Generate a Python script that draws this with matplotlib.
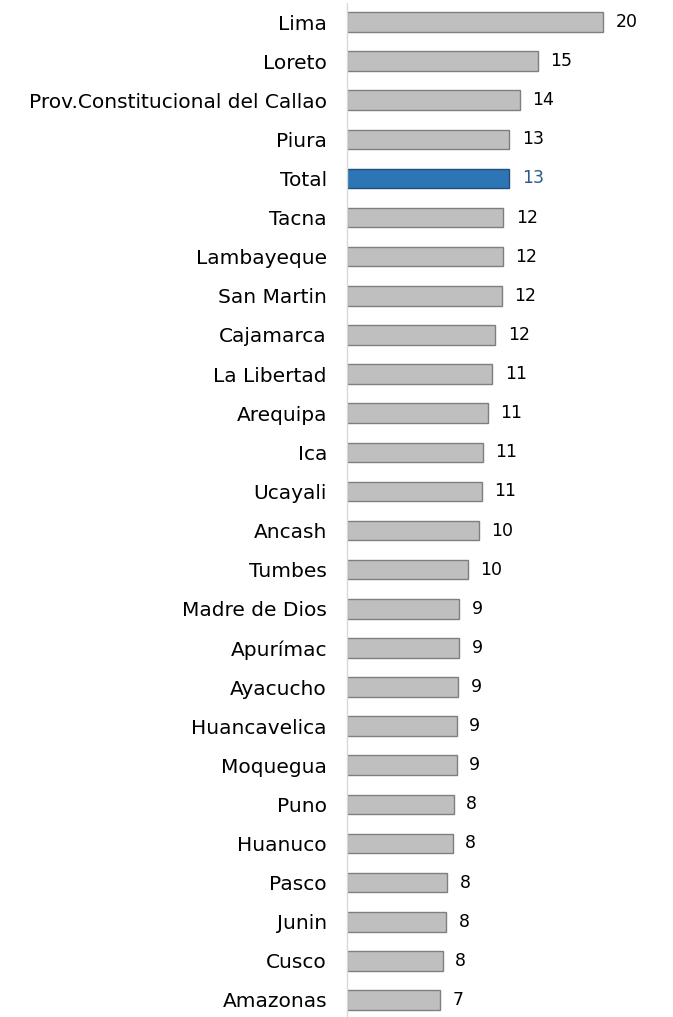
import matplotlib
matplotlib.use("Agg")
import matplotlib.pyplot as plt

plt.rcParams['font.family'] = ['DejaVu Sans']

categories = ["Lima", "Loreto", "Prov.Constitucional del Callao", "Piura", "Total",
              "Tacna", "Lambayeque", "San Martin", "Cajamarca", "La Libertad",
              "Arequipa", "Ica", "Ucayali", "Ancash", "Tumbes", "Madre de Dios",
              "Apurímac", "Ayacucho", "Huancavelica", "Moquegua", "Puno",
              "Huanuco", "Pasco", "Junin", "Cusco", "Amazonas"]
values = [20.2, 15.05, 13.65, 12.8, 12.8, 12.35, 12.3, 12.2, 11.7, 11.45,
          11.1, 10.73, 10.63, 10.39, 9.53, 8.87, 8.87, 8.76, 8.66, 8.66,
          8.42, 8.34, 7.92, 7.8, 7.55, 7.34]
labels = ["20", "15", "14", "13", "13", "12", "12", "12", "12", "11", "11", "11",
          "11", "10", "10", "9", "9", "9", "9", "9", "8", "8", "8", "8", "8", "7"]
highlight = "Total"

W, H = 673, 1017
fig = plt.figure(figsize=(W / 100, H / 100), dpi=100)
left_px, right_px = 347, 651
top_px, bot_px = 3, 1016
ax = fig.add_axes([left_px / W, 1 - bot_px / H, (right_px - left_px) / W, (bot_px - top_px) / H])

pos = list(range(len(categories)))
colors = ["#2E75B6" if c == highlight else "#BFBFBF" for c in categories]
edges = ["#1F4E79" if c == highlight else "#7F7F7F" for c in categories]
ax.barh(pos, values, height=0.5, color=colors, edgecolor=edges, linewidth=1.0)

for p, v, lab, c in zip(pos, values, labels, categories):
    col = "#2E5A8A" if c == highlight else "#000000"
    ax.text(v + 1.0, p, lab, va="center", ha="left", fontsize=12.5, color=col)

ax.set_yticks(pos)
ax.set_yticklabels(categories, fontsize=14.5)
ax.tick_params(axis="y", length=0, pad=14.4)
ax.set_ylim(25.41, -0.486)
ax.set_xlim(0, 24)
ax.set_xticks([])
for s in ["top", "right", "bottom"]:
    ax.spines[s].set_visible(False)
ax.spines["left"].set_color("#D9D9D9")
ax.spines["left"].set_linewidth(1.0)

fig.savefig("out.png", dpi=100)
